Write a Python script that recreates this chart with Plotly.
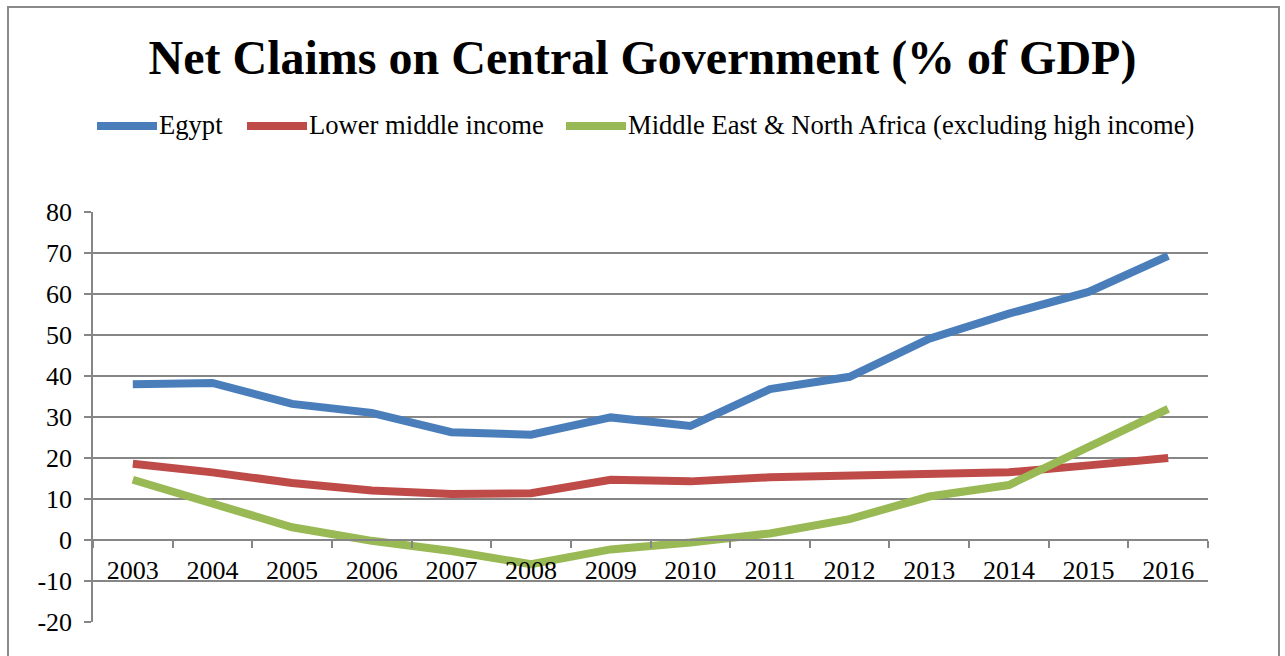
import plotly.graph_objects as go

# Net claims on central government, % of GDP
years = ["2003", "2004", "2005", "2006", "2007", "2008", "2009",
         "2010", "2011", "2012", "2013", "2014", "2015", "2016"]
egypt = [38.0, 38.3, 33.2, 31.0, 26.3, 25.7, 29.9, 27.8, 36.8, 39.8, 49.1, 55.2, 60.5, 69.3]
lower_middle = [18.6, 16.5, 13.9, 12.1, 11.2, 11.4, 14.7, 14.3, 15.3, 15.6, 16.3, 16.5, 18.2, 20.0]
mena = [14.7, 8.8, 3.1, -0.2, -2.7, -5.9, -2.3, -0.6, 1.6, 5.1, 10.6, 13.4, 22.7, 32.0]
y_ticks = [-20, -10, 0, 10, 20, 30, 40, 50, 60, 70, 80]
y_tick_text = ["-20", "-10", "0", "10", "20", "30", "40", "50", "60", "70", "80"]

series = [
    ("Egypt", egypt, "#4A7EBB"),
    ("Lower middle income", lower_middle, "#BE4B48"),
    ("Middle East & North Africa (excluding high income)", mena, "#98B954"),
]
# legend key start positions (px) for each series
legend_keys_px = [97, 247, 566]
KEY_LEN = 60

W, H = 1285, 656
L, R, T, B = 93, 77, 212, 34
plot_w = W - L - R
plot_h = H - T - B

FONT = "Liberation Serif"
GRID = "#868686"

fig = go.Figure()
for name, vals, color in series:
    fig.add_trace(go.Scatter(
        x=years, y=vals, name=name, mode="lines",
        line=dict(color=color, width=8),
        showlegend=False,
    ))


def px_x(px):
    return (px - L) / plot_w


def px_y(py):
    return (H - B - py) / plot_h


shapes = [dict(
    type="rect", xref="paper", yref="paper", layer="below",
    x0=px_x(8), x1=px_x(1279), y0=px_y(H + 10), y1=px_y(7),
    line=dict(color="#8a8a8a", width=2), fillcolor="rgba(0,0,0,0)",
)]
annotations = []
LEG_Y = 126
for (name, _, color), kx in zip(series, legend_keys_px):
    shapes.append(dict(
        type="line", xref="paper", yref="paper",
        x0=px_x(kx), x1=px_x(kx + KEY_LEN), y0=px_y(LEG_Y), y1=px_y(LEG_Y),
        line=dict(color=color, width=8),
    ))
    annotations.append(dict(
        text=name, xref="paper", yref="paper",
        x=px_x(kx + KEY_LEN), y=px_y(LEG_Y - 1),
        xanchor="left", yanchor="middle", showarrow=False,
        font=dict(family=FONT, size=26.6, color="black"),
    ))

ymin, ymax = y_ticks[0], y_ticks[-1]
fig.update_layout(
    width=W, height=H,
    margin=dict(l=L, r=R, t=T, b=B),
    paper_bgcolor="white", plot_bgcolor="white",
    font=dict(family=FONT, color="black", size=26),
    title=dict(
        text="<b>Net Claims on Central Government (% of GDP)</b>",
        font=dict(family=FONT, size=48, color="black"),
        x=0.5, xanchor="center", y=1 - 57 / H, yanchor="middle",
    ),
    showlegend=False,
    xaxis=dict(
        type="category", range=[-0.5, len(years) - 0.5],
        anchor="free", position=(0 - ymin) / (ymax - ymin),
        showline=True, linecolor=GRID, linewidth=1.5,
        ticks="outside", tickson="boundaries", ticklen=7,
        tickcolor=GRID, tickwidth=1.5,
        showgrid=False, ticklabelstandoff=7,
        tickfont=dict(family=FONT, size=26, color="black"),
    ),
    yaxis=dict(
        range=[ymin, ymax], tickvals=y_ticks, ticktext=y_tick_text,
        showgrid=True, gridcolor=GRID, gridwidth=1.5,
        zeroline=False,
        showline=True, linecolor=GRID, linewidth=1.5,
        ticks="outside", ticklen=7, tickcolor=GRID, tickwidth=1.5,
        ticklabelstandoff=7,
        tickfont=dict(family=FONT, size=26, color="black"),
    ),
    shapes=shapes,
    annotations=annotations,
)

fig.write_html("out.html")
